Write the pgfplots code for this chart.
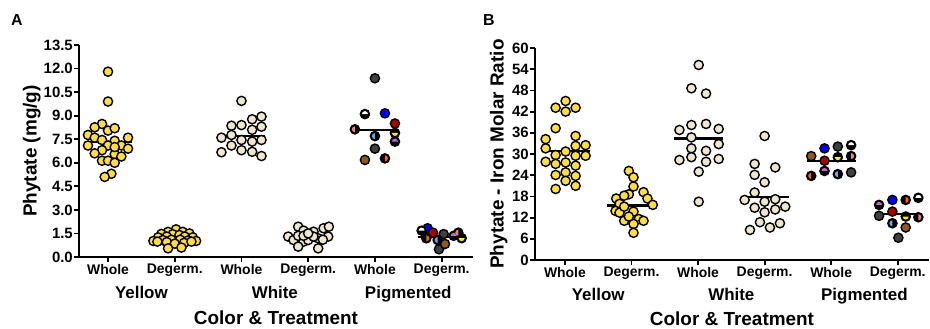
\documentclass[border=0pt]{standalone}
\usepackage{fontspec}
\setmainfont{Liberation Sans}
\usepackage{pgfplots}
\pgfplotsset{compat=1.18}

\definecolor{ylw}{RGB}{255,221,70}
\definecolor{wht}{RGB}{236,231,206}
\definecolor{dg}{RGB}{64,64,64}
\definecolor{blu}{RGB}{0,0,255}
\definecolor{drd}{RGB}{170,0,0}
\definecolor{brn}{RGB}{140,90,30}
\definecolor{org}{RGB}{255,100,0}
\definecolor{lbl}{RGB}{100,170,235}
\definecolor{yel}{RGB}{255,240,0}
\definecolor{pur}{RGB}{200,100,200}
\definecolor{sal}{RGB}{240,128,128}

\pgfdeclareplotmark{halfL}{\pgfpathmoveto{\pgfqpoint{0pt}{\pgfplotmarksize}}\pgfpatharc{90}{270}{\pgfplotmarksize}\pgfpathclose\pgfusepathqfill}
\pgfdeclareplotmark{halfR}{\pgfpathmoveto{\pgfqpoint{0pt}{\pgfplotmarksize}}\pgfpatharc{90}{-90}{\pgfplotmarksize}\pgfpathclose\pgfusepathqfill}
\pgfdeclareplotmark{halfT}{\pgfpathmoveto{\pgfqpoint{\pgfplotmarksize}{0pt}}\pgfpatharc{0}{180}{\pgfplotmarksize}\pgfpathclose\pgfusepathqfill}
\pgfdeclareplotmark{halfB}{\pgfpathmoveto{\pgfqpoint{-\pgfplotmarksize}{0pt}}\pgfpatharc{180}{360}{\pgfplotmarksize}\pgfpathclose\pgfusepathqfill}

\pgfplotsset{
  dot/.style={only marks, mark=*, mark size=4.6bp, mark options={draw=black, line width=1.4bp, fill=#1}},
  half/.style 2 args={only marks, mark=#1, mark size=3.0bp, color=#2, mark options={fill=#2, draw=none}},
  med/.style={black, line width=2.2bp, no marks},
  myax/.style={
    scale only axis, width=394bp, height=212bp,
    axis lines=left, axis line style={-, line width=1.8bp},
    ymin=0, xtick={0,...,5},
    xticklabels={Whole,Degerm.,Whole,Degerm.,Whole,Degerm.},
    tick style={black, line width=1.8bp}, major tick length=5bp, tick align=outside,
    /pgf/number format/assume math mode=true,
    x tick label style={font=\fontsize{14}{14}\selectfont\bfseries, inner sep=1bp, yshift=-1bp},
    y tick label style={font=\fontsize{15}{15}\selectfont\bfseries, inner sep=1bp},
    clip=false,
  },
}
\newcommand{\grp}{\fontsize{17}{17}\selectfont\bfseries}
\newcommand{\ttl}{\fontsize{19}{19}\selectfont\bfseries}

\begin{document}
\begin{tikzpicture}
\path[use as bounding box] (0,0) rectangle (930bp,329bp);

\node[anchor=base west, font=\fontsize{16}{16}\selectfont\bfseries, inner sep=0] at (11bp,303bp) {A};
\node[anchor=base west, font=\fontsize{16}{16}\selectfont\bfseries, inner sep=0] at (483bp,303bp) {B};

% ---------------- Panel A ----------------
\begin{axis}[myax, at={(79bp,72bp)}, anchor=south west,
  xmin=-0.435, xmax=5.47, ymax=13.5, ytick={0,1.5,...,13.5},
  yticklabel style={/pgf/number format/.cd, fixed, fixed zerofill, precision=1}]
% Yellow whole
\addplot[dot=ylw] coordinates {(0,11.8)(0,9.9)(-0.09,8.47)(-0.2,8.26)(0,8.05)(0.1,8.2)(-0.3,7.77)(0.3,7.6)(-0.2,7.6)(-0.09,7.45)(0.1,7.4)(-0.3,7.1)(0,7.1)(0.2,7.1)(0.3,6.9)(-0.09,6.8)(-0.2,6.6)(0.1,6.55)(0.2,6.4)(-0.09,6.13)(0,6.13)(0.1,6.0)(0.05,5.3)(-0.05,5.1)(0.1,7.0)};
% Yellow degerm
\addplot[dot=ylw] coordinates {(1.02,1.76)(0.9,1.6)(1.12,1.6)(0.8,1.47)(1.22,1.5)(0.97,1.45)(1.07,1.4)(0.75,1.25)(1.27,1.25)(0.88,1.3)(1.15,1.3)(0.68,1.02)(1.32,1.02)(0.82,1.08)(1.2,1.05)(0.95,1.1)(1.08,1.1)(0.88,0.95)(1.0,0.85)(1.14,0.9)(0.9,0.55)(1.1,0.6)(1.25,0.98)(0.74,0.98)};
% White whole
\addplot[dot=wht] coordinates {(2,9.94)(1.85,8.36)(2,8.4)(2.16,8.77)(2.3,8.94)(2.16,8.1)(2.3,8.3)(1.7,7.6)(1.85,7.77)(2,7.45)(2.16,7.35)(2.3,7.45)(1.85,7.1)(1.7,6.67)(2,6.8)(2.16,6.7)(2.3,6.43)};
% White degerm
\addplot[dot=wht] coordinates {(2.7,1.3)(2.85,1.93)(2.93,1.68)(3.08,1.61)(3.23,1.83)(3.31,1.93)(2.78,1.08)(2.93,0.98)(3,1.08)(3.15,1.19)(3.3,1.3)(2.85,0.66)(3.15,0.55)(3.08,1.3)(2.85,1.35)(3.22,1.1)(2.93,1.35)(3,1.5)};
% Pigmented
\addplot[dot=dg] coordinates {(4,11.38)(4,6.9)(4.96,0.49)(5.03,1.46)};
\addplot[dot=blu] coordinates {(4.15,9.15)(4.79,1.83)};
\addplot[dot=drd] coordinates {(4.3,8.5)(4.87,1.55)};
\addplot[dot=brn] coordinates {(3.85,6.18)(5.05,0.83)};
\addplot[dot=black] coordinates {(3.85,9.1)(3.7,8.13)(4,7.7)(4.3,7.9)(4.3,7.35)(4.15,6.28)(4.7,1.68)(4.77,1.19)(4.94,1.08)(5.25,1.55)(5.18,1.35)(5.3,1.2)};
\addplot[half={halfT}{white}] coordinates {(3.85,9.1)(4.7,1.68)};
\addplot[half={halfL}{sal}] coordinates {(3.7,8.13)(5.25,1.55)};
\addplot[half={halfL}{lbl}] coordinates {(4,7.7)(4.94,1.08)};
\addplot[half={halfB}{yel}] coordinates {(4.3,7.9)(5.3,1.2)};
\addplot[half={halfT}{pur}] coordinates {(4.3,7.35)(5.18,1.35)};
\addplot[half={halfR}{org}] coordinates {(4.15,6.28)(4.77,1.19)};
% medians
\addplot[med] coordinates {(-0.34,7.3)(0.36,7.3)};
\addplot[med] coordinates {(0.65,1.1)(1.35,1.1)};
\addplot[med] coordinates {(1.65,7.7)(2.35,7.7)};
\addplot[med] coordinates {(2.65,1.3)(3.35,1.3)};
\addplot[med] coordinates {(3.68,8.1)(4.32,8.1)};
\addplot[med] coordinates {(4.65,1.27)(5.35,1.27)};
% labels
\node[anchor=base, font=\grp] at (axis cs:0.5,0) [yshift=-41.3bp] {Yellow};
\node[anchor=base, font=\grp] at (axis cs:2.5,0) [yshift=-41.3bp] {White};
\node[anchor=base, font=\grp] at (axis cs:4.5,0) [yshift=-41.3bp] {Pigmented};
\node[anchor=base, font=\ttl] at (rel axis cs:0.5,0) [yshift=-67.3bp] {Color \& Treatment};
\node[anchor=base, rotate=90, font=\ttl] at ([xshift=-42.3bp]rel axis cs:0,0.5) {Phytate (mg/g)};
\end{axis}

% ---------------- Panel B ----------------
\begin{axis}[myax, at={(535bp,69bp)}, anchor=south west,
  xmin=-0.45, xmax=5.47, ymax=60, ytick={0,6,...,60}]
% Yellow whole
\addplot[dot=ylw] coordinates {(0.01,45)(-0.14,43.1)(0.01,42)(0.16,43.1)(-0.14,37.3)(-0.29,34.2)(0.16,35.1)(-0.29,31.6)(-0.14,29.7)(0.01,30.7)(0.16,32.3)(0.31,32.5)(-0.29,27.8)(-0.14,27.2)(0.01,27.6)(0.16,29.5)(0.31,29.5)(0.16,26.7)(0.01,24.8)(-0.14,24.06)(0.16,23.8)(0.01,22.4)(0.16,21.0)(-0.14,20.1)};
% Yellow degerm
\addplot[dot=ylw] coordinates {(0.96,25.2)(1.03,23.4)(1.03,20.8)(1.18,19.2)(0.96,18.6)(0.77,17.4)(0.89,18.2)(1.24,17.4)(0.82,15.9)(1.32,15.6)(0.76,13.9)(0.82,13.4)(1.03,13.7)(1.11,11.6)(0.89,11.1)(1.18,11.1)(1.03,10.2)(0.89,15.1)(0.96,12.3)(1.03,7.7)};
% White whole
\addplot[dot=wht] coordinates {(2.01,55.2)(1.9,48.6)(2.12,47.1)(1.72,36.8)(1.9,38.2)(2.12,38.5)(2.31,37.1)(1.9,34.7)(2.31,32.8)(1.9,31.6)(2.12,30.9)(1.72,28.3)(1.9,29.1)(2.12,27.8)(2.31,28.6)(2.01,25.0)(2.01,16.5)};
% White degerm
\addplot[dot=wht] coordinates {(3,35.1)(2.85,27.2)(3.16,26.2)(2.85,24.1)(3,22.0)(2.85,19.1)(2.7,17.0)(3,16.5)(3.16,17.2)(2.85,14.8)(3,13.5)(3.16,14.3)(3.31,15.1)(2.93,10.7)(3.08,9.2)(3.23,10.4)(2.78,8.5)};
% Pigmented
\addplot[dot=dg] coordinates {(4.1,32.1)(4.3,24.8)(4.72,12.5)(5.01,6.3)};
\addplot[dot=blu] coordinates {(3.9,31.6)(4.92,17.0)};
\addplot[dot=drd] coordinates {(3.9,28.1)(4.92,13.7)};
\addplot[dot=brn] coordinates {(3.7,29.4)(5.12,9.2)};
\addplot[dot=black] coordinates {(4.3,32.5)(4.1,29.1)(4.3,29.4)(3.7,23.8)(3.9,25.2)(4.1,24.3)(4.72,15.6)(5.12,17.0)(5.31,17.6)(5.12,12.3)(5.31,12.1)(4.92,10.4)};
\addplot[half={halfT}{white}] coordinates {(4.3,32.5)(5.31,17.6)};
\addplot[half={halfR}{sal}] coordinates {(4.3,29.4)(5.31,12.1)};
\addplot[half={halfL}{lbl}] coordinates {(4.1,24.3)(4.92,10.4)};
\addplot[half={halfB}{yel}] coordinates {(4.1,29.1)(5.12,12.3)};
\addplot[half={halfT}{pur}] coordinates {(3.9,25.2)(4.72,15.6)};
\addplot[half={halfL}{org}] coordinates {(3.7,23.8)};
\addplot[half={halfR}{org}] coordinates {(5.12,17.0)};
% medians
\addplot[med] coordinates {(-0.35,30.9)(0.37,30.9)};
\addplot[med] coordinates {(0.63,15.4)(1.3,15.4)};
\addplot[med] coordinates {(1.64,34.4)(2.37,34.4)};
\addplot[med] coordinates {(2.65,17.9)(3.37,17.9)};
\addplot[med] coordinates {(3.63,28.1)(4.37,28.1)};
\addplot[med] coordinates {(4.73,13.0)(5.37,13.0)};
% labels
\node[anchor=base, font=\grp] at (axis cs:0.5,0) [yshift=-40.7bp] {Yellow};
\node[anchor=base, font=\grp] at (axis cs:2.5,0) [yshift=-40.7bp] {White};
\node[anchor=base, font=\grp] at (axis cs:4.5,0) [yshift=-40.7bp] {Pigmented};
\node[anchor=base, font=\ttl] at (rel axis cs:0.5,0) [yshift=-65bp] {Color \& Treatment};
\node[anchor=base, rotate=90, font=\ttl] at ([xshift=-31.4bp]rel axis cs:0,0.5) {Phytate - Iron Molar Ratio};
\end{axis}
\end{tikzpicture}
\end{document}
